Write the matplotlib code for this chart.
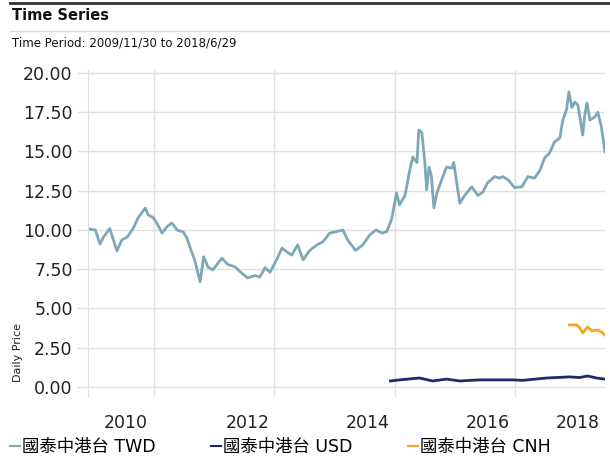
import matplotlib.pyplot as plt
from matplotlib.lines import Line2D

plt.rcParams['font.family'] = ['DejaVu Sans', 'Noto Sans CJK TC']

# fractional years
twd_x = [2009.91, 2009.93, 2010.03, 2010.11, 2010.16, 2010.27, 2010.39, 2010.47, 2010.56, 2010.66,
         2010.74, 2010.86, 2010.91, 2010.99, 2011.05, 2011.14, 2011.22, 2011.30, 2011.39, 2011.49,
         2011.55, 2011.62, 2011.68, 2011.77, 2011.83, 2011.90, 2011.98, 2012.13, 2012.23, 2012.35,
         2012.46, 2012.56, 2012.68, 2012.76, 2012.85, 2012.93, 2013.04, 2013.13, 2013.21, 2013.29,
         2013.39, 2013.48, 2013.59, 2013.71, 2013.81, 2013.92, 2014.04, 2014.14, 2014.22, 2014.35,
         2014.47, 2014.59, 2014.69, 2014.79, 2014.87, 2014.95, 2015.03, 2015.08, 2015.17, 2015.25,
         2015.30, 2015.37, 2015.40, 2015.45, 2015.50, 2015.53, 2015.57, 2015.61, 2015.65, 2015.70,
         2015.78, 2015.86, 2015.95, 2015.98, 2016.08, 2016.16, 2016.28, 2016.38, 2016.46, 2016.54,
         2016.66, 2016.74, 2016.79, 2016.88, 2016.99, 2017.11, 2017.21, 2017.32, 2017.41, 2017.49,
         2017.57, 2017.65, 2017.74, 2017.79, 2017.85, 2017.89, 2017.94, 2017.99, 2018.04, 2018.12,
         2018.15, 2018.19, 2018.24, 2018.32, 2018.37, 2018.43, 2018.49]
twd_y = [10.0, 10.06, 10.0, 9.1, 9.5, 10.1, 8.66, 9.36, 9.55, 10.1,
         10.76, 11.4, 10.95, 10.8, 10.45, 9.8, 10.2, 10.45, 10.0, 9.87,
         9.5, 8.7, 8.1, 6.7, 8.3, 7.65, 7.45, 8.2, 7.8, 7.65,
         7.25, 6.95, 7.1, 7.0, 7.6, 7.3, 8.1, 8.85, 8.6, 8.4,
         9.05, 8.1, 8.7, 9.05, 9.25, 9.8, 9.9, 10.0, 9.36, 8.7,
         9.05, 9.7, 10.0, 9.8, 9.9, 10.7, 12.36, 11.6, 12.2, 13.8,
         14.65, 14.3, 16.37, 16.2, 14.3, 12.55, 14.0, 13.4, 11.4, 12.36,
         13.2, 14.0, 13.95, 14.3, 11.7, 12.2, 12.75, 12.2, 12.4, 13.0,
         13.4, 13.3, 13.4, 13.2, 12.7, 12.75, 13.4, 13.3, 13.8, 14.6,
         14.9, 15.6, 15.86, 17.0, 17.64, 18.8, 17.8, 18.15, 17.96, 16.05,
         17.2, 18.1, 17.0, 17.2, 17.5, 16.56, 14.97]

usd_x = [2014.93, 2015.08, 2015.41, 2015.63, 2015.86, 2016.08, 2016.41, 2016.96, 2017.12, 2017.52,
         2017.90, 2018.07, 2018.20, 2018.35, 2018.49]
usd_y = [0.38, 0.45, 0.57, 0.38, 0.5, 0.38, 0.45, 0.45, 0.42, 0.57,
         0.64, 0.6, 0.7, 0.57, 0.5]

cnh_x = [2017.90, 2018.02, 2018.07, 2018.12, 2018.20, 2018.28, 2018.37, 2018.43, 2018.49]
cnh_y = [3.95, 3.95, 3.76, 3.44, 3.82, 3.57, 3.63, 3.5, 3.3]

y_ticks = [0, 2.5, 5, 7.5, 10, 12.5, 15, 17.5, 20]
x_grid = [2011, 2013, 2015, 2017]
x_label_pos = [2010.54, 2012.56, 2014.55, 2016.54, 2018.04]
x_labels = ['2010', '2012', '2014', '2016', '2018']

names = ['國泰中港台 TWD', '國泰中港台 USD', '國泰中港台 CNH']
colors = ['#7ea8b8', '#1c2a6b', '#f5a623']

fig = plt.figure(figsize=(6.1, 4.61), dpi=100)
ax = fig.add_axes([88 / 610, 1 - 397 / 461, 517 / 610, 327 / 461])

ax.plot(twd_x, twd_y, color=colors[0], lw=2)
ax.plot(usd_x, usd_y, color=colors[1], lw=2)
ax.plot(cnh_x, cnh_y, color=colors[2], lw=2)

ax.set_xlim(2009.91, 2018.49)
ax.set_ylim(-0.64, 20.19)
ax.set_yticks(y_ticks)
ax.set_yticklabels(['%.2f' % v for v in y_ticks], fontsize=12.5, color='#222222')
ax.set_xticks(x_label_pos)
ax.set_xticklabels(x_labels, fontsize=12.5, color='#222222')
ax.set_xticks(x_grid, minor=True)
ax.tick_params(axis='x', which='both', length=0, pad=12)
ax.tick_params(axis='y', length=8, color='#e0e0e0', width=1, pad=3)
ax.grid(axis='y', color='#e0e0e0', lw=1)
ax.grid(axis='x', which='minor', color='#e0e0e0', lw=1)
for s in ['top', 'right', 'bottom']:
    ax.spines[s].set_visible(False)
ax.spines['left'].set_color('#e0e0e0')
ax.set_axisbelow(True)

fig.text(18 / 610, 1 - 352 / 461, 'Daily Price', rotation=90, fontsize=8,
         ha='center', va='center', color='#222222')

# header
fig.add_artist(Line2D([10 / 610, 1], [1 - 3 / 461, 1 - 3 / 461], color='#333333', lw=2))
fig.add_artist(Line2D([10 / 610, 1], [1 - 31 / 461, 1 - 31 / 461], color='#d8d8d8', lw=1))
fig.text(12 / 610, 1 - 16 / 461, 'Time Series', fontsize=10.5, fontweight='bold',
         va='center', color='#111111')
fig.text(12 / 610, 1 - 43 / 461, 'Time Period: 2009/11/30 to 2018/6/29', fontsize=8.5,
         va='center', color='#111111')

handles = [Line2D([], [], color=c, lw=1.5) for c in colors]
fig.legend(handles, names, loc='center left', bbox_to_anchor=(0.01, 1 - 447 / 461),
           ncol=3, frameon=False, fontsize=12.5, handlelength=0.6, handletextpad=0.1,
           columnspacing=3.2, borderaxespad=0, borderpad=0.2)

fig.savefig('out.png', dpi=100)
